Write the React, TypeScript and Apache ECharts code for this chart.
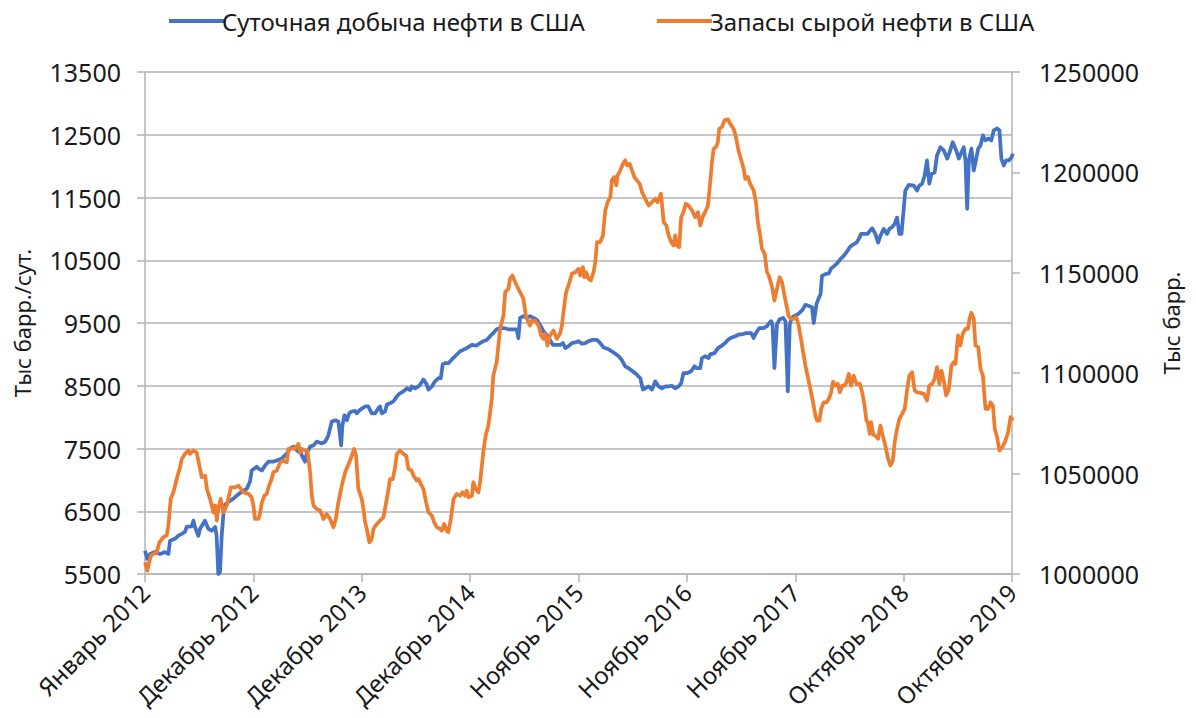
import React, { useEffect, useRef } from "react";
import * as echarts from "echarts";

// X axis: weeks since the start of January 2012; one labelled tick every 51 weeks
const xTickLabels = [
  "Январь 2012",
  "Декабрь 2012",
  "Декабрь 2013",
  "Декабрь 2014",
  "Ноябрь 2015",
  "Ноябрь 2016",
  "Ноябрь 2017",
  "Октябрь 2018",
  "Октябрь 2019",
];
const weeksPerTick = 51;

const productionName = "Суточная добыча нефти в США";
const stocksName = "Запасы сырой нефти в США";
const leftAxisName = "Тыс барр./сут.";
const rightAxisName = "Тыс барр.";

// [week, thousand barrels per day]
const production: [number, number][] = [
  [0, 5870], [1.1, 5740], [2.4, 5820], [4.7, 5850], [7.1, 5820], [9.4, 5850], [11, 5820], [11.8, 6030],
  [14.1, 6060], [15.7, 6110], [17.3, 6140], [18.8, 6170], [19.6, 6250], [22, 6260], [22.8, 6350], [23.5, 6250],
  [25.1, 6110], [25.9, 6220], [28.2, 6350], [29.8, 6220], [31.4, 6190], [33, 6250], [33.7, 6110], [34.5, 5500],
  [35.3, 5530], [36.1, 6110], [37.2, 6590], [39.2, 6650], [41.6, 6700], [43.2, 6750], [45.5, 6810], [47.9, 6860],
  [49.4, 6970], [50.2, 7150], [52.6, 7210], [53.4, 7180], [55, 7150], [56.5, 7230], [58.1, 7290], [60.4, 7290],
  [62, 7310], [64.4, 7340], [66.7, 7420], [68.3, 7500], [69.8, 7530], [70.6, 7500], [72.2, 7450], [73, 7470],
  [73.8, 7390], [75.3, 7290], [76.1, 7420], [77.7, 7530], [79.3, 7550], [80.8, 7610], [83.2, 7580], [84.8, 7610],
  [86.3, 7710], [87.9, 7930], [89.5, 7950], [91, 7930], [92.3, 7550], [92.9, 7870], [93.9, 8030], [95, 7950],
  [96.1, 8060], [97.3, 8090], [98.9, 8100], [99.6, 8060], [101.2, 8115], [103.6, 8170], [105.1, 8170], [106.7, 8060],
  [108.3, 8060], [109.8, 8140], [110.6, 8170], [111.4, 8060], [113, 8090], [113.8, 8200], [115.3, 8220], [116.9, 8250],
  [118.5, 8330], [120, 8380], [121.6, 8410], [123.2, 8460], [124.8, 8430], [125.5, 8490], [127.1, 8460], [128.7, 8490],
  [129.5, 8520], [131, 8600], [132.3, 8540], [133.4, 8440], [135, 8490], [136.5, 8570], [138.1, 8620], [139.2, 8620],
  [140.1, 8840], [141.2, 8860], [142.8, 8860], [144.4, 8920], [145.9, 8970], [148.3, 9050], [151.4, 9100], [153.8, 9150],
  [156.1, 9140], [157.7, 9180], [159.2, 9210], [160.8, 9230], [162.4, 9290], [163.9, 9340], [165.5, 9400], [167.1, 9420],
  [168.7, 9420], [171, 9400], [173.4, 9400], [174.9, 9400], [175.7, 9260], [176.5, 9580], [178.1, 9610], [179.7, 9580],
  [181.2, 9610], [182.8, 9580], [184.4, 9550], [185.9, 9470], [187.5, 9370], [189.1, 9310], [190.6, 9230], [191.9, 9150],
  [193.8, 9150], [195.4, 9150], [196.7, 9180], [197.8, 9100], [199.3, 9130], [200.9, 9180], [202.5, 9190], [204, 9210],
  [205.6, 9170], [207.2, 9180], [208.7, 9210], [210.3, 9230], [212.7, 9230], [214.2, 9180], [215.8, 9110], [218.2, 9080],
  [220.5, 9030], [222.9, 8970], [224.4, 8910], [226, 8810], [228.4, 8760], [230.7, 8700], [233.1, 8620], [234.3, 8440],
  [235.4, 8460], [237, 8490], [238.6, 8440], [240.1, 8570], [241.7, 8490], [243.3, 8460], [244.9, 8490], [246.4, 8490],
  [247.9, 8500], [249.5, 8460], [251.1, 8490], [252.3, 8540], [253.4, 8700], [255, 8700], [257, 8730], [258.6, 8810],
  [259.7, 8780], [261.3, 8780], [262.1, 8940], [263.6, 8970], [265.2, 8940], [266, 9000], [268, 9020], [269.6, 9100],
  [271.5, 9140], [273, 9180], [274.6, 9240], [276.2, 9270], [277.8, 9290], [279.7, 9320], [281.2, 9320], [282.8, 9340],
  [284, 9340], [285.3, 9340], [286.4, 9260], [287.5, 9340], [289.1, 9420], [291.1, 9420], [292.7, 9450], [293.8, 9500],
  [294.6, 9530], [295.3, 9480], [296.2, 8780], [297.4, 9480], [298.7, 9560], [300.3, 9580], [301.4, 9530], [302.5, 8410],
  [303.4, 9480], [304.5, 9590], [306.1, 9620], [307.6, 9650], [309.2, 9700], [310.8, 9790], [312.4, 9770], [313.9, 9750],
  [314.7, 9500], [316, 9800], [317.1, 9900], [317.9, 9960], [318.6, 10250], [320.2, 10280], [321.8, 10290], [322.9, 10370],
  [324.4, 10410], [325.7, 10450], [327.3, 10520], [328.8, 10570], [330.4, 10640], [331.7, 10710], [333.2, 10750], [334.8, 10780],
  [335.9, 10840], [337, 10920], [338.6, 10920], [340.1, 10920], [341.1, 10970], [342.2, 11010], [343.7, 10920], [345, 10780],
  [346.1, 10890], [347.6, 11000], [349.2, 10920], [350.3, 11000], [351.6, 11030], [352.8, 11080], [353.9, 11180], [355, 10920],
  [356, 10920], [357.1, 11340], [357.8, 11610], [359.4, 11700], [361.8, 11690], [363.3, 11610], [364.4, 11690], [365.7, 11720],
  [366.9, 11850], [368, 12090], [369.1, 11720], [370.1, 11880], [371.6, 11900], [372.7, 12170], [374.3, 12300], [375.9, 12250],
  [377.5, 12120], [378.6, 12220], [380.1, 12380], [381.7, 12250], [383, 12120], [384.2, 12220], [385.3, 12300], [386.1, 12090],
  [386.9, 11320], [387.7, 12090], [388.9, 12280], [390, 11930], [390.8, 12060], [392.1, 12280], [393.2, 12330], [394.3, 12490],
  [395.5, 12410], [397.1, 12440], [398.3, 12410], [399.4, 12570], [401, 12600], [402.1, 12570], [403, 12120], [404.1, 12010],
  [405.2, 12090], [406.5, 12090], [407.8, 12140], [408.4, 12200],
];

// [week, thousand barrels]
const stocks: [number, number][] = [
  [0, 1005800], [1.1, 1001700], [2.4, 1007500], [3.1, 1009500], [5.5, 1010800], [6.8, 1015800], [8.6, 1018300], [10.2, 1019100],
  [11, 1024100], [12.1, 1037400], [13.4, 1040700], [14.9, 1047300], [16.5, 1053200], [17.3, 1057300], [18.8, 1059800], [20.4, 1061500],
  [21.2, 1059800], [22.8, 1061500], [24.3, 1060600], [25.6, 1054000], [26.7, 1048200], [28.3, 1049000], [29.1, 1042400], [30.6, 1037400],
  [32.2, 1030700], [33, 1034100], [33.8, 1026600], [34.5, 1032400], [35.6, 1037400], [36.9, 1030700], [38.5, 1034100], [40.4, 1043200],
  [42.4, 1043200], [44, 1044000], [46.3, 1040700], [48.7, 1039900], [50.2, 1038200], [51, 1034100], [51.8, 1027400], [53.4, 1027400],
  [54.1, 1029900], [55, 1035700], [56.2, 1039000], [57.3, 1039900], [58.1, 1043200], [59.6, 1047300], [60.4, 1050700], [62, 1051500],
  [63.6, 1055600], [65.1, 1056500], [66.7, 1055600], [67.5, 1062300], [69.1, 1062600], [70.6, 1062300], [72.2, 1064800], [73, 1060600],
  [73.8, 1062300], [75.3, 1061500], [76.4, 1061500], [77.7, 1050700], [78.5, 1039000], [79.3, 1034100], [80.8, 1032400], [82.4, 1031600],
  [84, 1027400], [85.5, 1029900], [87.1, 1027400], [88.7, 1023300], [89.8, 1027400], [91, 1035700], [92.6, 1044000], [94.2, 1050700],
  [96.5, 1056500], [98.4, 1062300], [99.3, 1059000], [100.4, 1042400], [102, 1037400], [102.8, 1032400], [103.6, 1025700], [104.4, 1022400],
  [105.6, 1015800], [106.7, 1017400], [107.5, 1022400], [109.1, 1024900], [110.6, 1026600], [112.2, 1028200], [113.5, 1035700], [114.6, 1042400],
  [115.3, 1047300], [116.6, 1047300], [117.7, 1053200], [118.5, 1059800], [120, 1061500], [121.6, 1059800], [122.9, 1059000], [124, 1052300],
  [125.5, 1051500], [126.3, 1049000], [127.9, 1046500], [128.7, 1047300], [129.8, 1044800], [131, 1042400], [132.3, 1035700], [133.4, 1030700],
  [135, 1029100], [136.1, 1025700], [137.3, 1023300], [138.9, 1022400], [139.7, 1021600], [140.8, 1024900], [142, 1021600], [142.8, 1020800],
  [143.9, 1027400], [145.2, 1037400], [146.7, 1039900], [148.3, 1039000], [149.4, 1040700], [150.6, 1039000], [151.4, 1041500], [152.2, 1038200],
  [153.8, 1039000], [154.5, 1045700], [155.6, 1042400], [156.9, 1040700], [157.7, 1045700], [159.2, 1060600], [160.3, 1068900], [161.6, 1073900],
  [163.2, 1087200], [163.9, 1098800], [165.5, 1105500], [167.1, 1122100], [168.7, 1128700], [169.5, 1140400], [171, 1142000], [171.8, 1147000],
  [172.9, 1148700], [174.2, 1145300], [175.7, 1142000], [177.3, 1138700], [178.1, 1137000], [179.2, 1128700], [180.4, 1125400], [181.2, 1123700],
  [182, 1126200], [183.6, 1126200], [185.2, 1123700], [186.4, 1118800], [187.5, 1117100], [188.3, 1119600], [189.4, 1113800], [190.6, 1118800],
  [192.2, 1121300], [193.8, 1117100], [195.4, 1120000], [196.2, 1123700], [197.3, 1133700], [198.2, 1140400], [199.3, 1143700], [200.9, 1149500],
  [202.5, 1150300], [204, 1152000], [204.8, 1148700], [206.1, 1152800], [206.7, 1147800], [207.6, 1150300], [208.7, 1147000], [209.8, 1146200],
  [211.1, 1150300], [211.9, 1155300], [212.7, 1165300], [214.2, 1165300], [215.5, 1168600], [216.6, 1181000], [217.7, 1185200], [219, 1187700],
  [219.7, 1196000], [220.8, 1197700], [221.8, 1193500], [222.4, 1198500], [223.7, 1201000], [224.9, 1204300], [226, 1206000], [226.8, 1203500],
  [228.1, 1204300], [229.2, 1201000], [230.3, 1197700], [231.5, 1196000], [232.8, 1194300], [233.9, 1190200], [235.4, 1186900], [237, 1183500],
  [238.6, 1185200], [240.1, 1186900], [241.2, 1185200], [242.8, 1189400], [244.1, 1175200], [245.3, 1173600], [246.4, 1168600], [247.6, 1165300],
  [248.7, 1163600], [249.5, 1168600], [250.3, 1163600], [251.4, 1162800], [252.3, 1177700], [253.4, 1180200], [254.5, 1184400], [255.8, 1183500],
  [257.4, 1181000], [258.9, 1177700], [260.2, 1180200], [261.3, 1173600], [262.4, 1177700], [263.6, 1180200], [264.9, 1183500], [266, 1195200],
  [266.8, 1205100], [267.6, 1211800], [268.7, 1212600], [269.6, 1215100], [270.2, 1221700], [271.5, 1222600], [272.7, 1225900], [274.3, 1226400],
  [275.4, 1224200], [277, 1221700], [278.1, 1217600], [279.3, 1210900], [280.6, 1206000], [281.7, 1201800], [282.5, 1196800], [283.7, 1197700],
  [284.8, 1194300], [286.4, 1191000], [287.5, 1185200], [288.4, 1175200], [289.5, 1168600], [290.3, 1162000], [291.6, 1159500], [292.7, 1150300],
  [293.5, 1148700], [294.7, 1144500], [295.4, 1141200], [296.2, 1136200], [297.4, 1142000], [298.7, 1147800], [299.8, 1145300], [300.9, 1138700],
  [302.2, 1132000], [302.9, 1128400], [304, 1127100], [305.3, 1127100], [306.5, 1127900], [307.6, 1123700], [308.7, 1117100], [309.7, 1110500],
  [310.8, 1103800], [311.9, 1098000], [313.1, 1092200], [314.4, 1085500], [315.5, 1078900], [316.3, 1076400], [317.4, 1076400], [318.2, 1082200],
  [319.4, 1085500], [320.7, 1085500], [321.8, 1087200], [322.9, 1090500], [323.8, 1095800], [324.9, 1093800], [326, 1094700], [327, 1090500],
  [328.1, 1093800], [329.2, 1093800], [330.1, 1095500], [331.2, 1099700], [332.3, 1093800], [333.5, 1098800], [334.8, 1094700], [336.4, 1094700],
  [337.5, 1090500], [338.6, 1083900], [339.5, 1076400], [340.1, 1075600], [341.1, 1069800], [341.7, 1075600], [342.7, 1069300], [343.7, 1068900],
  [345, 1067300], [346.1, 1073900], [347.2, 1068900], [348.4, 1063900], [349.7, 1057300], [350.8, 1054000], [351.9, 1056500], [352.8, 1065600],
  [353.9, 1072300], [355, 1077200], [356.3, 1079700], [357.5, 1082200], [358.6, 1091400], [359.7, 1098800], [361, 1100500], [362.2, 1091400],
  [363.3, 1090500], [364.9, 1090200], [366.5, 1089700], [368, 1086400], [369.1, 1093800], [370.4, 1094700], [371.6, 1097200], [372.7, 1103000],
  [373.8, 1094700], [374.8, 1101300], [375.9, 1096300], [377, 1088900], [378.2, 1091400], [379.5, 1103800], [380.6, 1105500], [381.4, 1104600],
  [382.6, 1118800], [383.7, 1113800], [384.8, 1119600], [386.1, 1122100], [387.3, 1122100], [388, 1127100], [388.9, 1130100], [390, 1127100],
  [390.8, 1113800], [392.1, 1112900], [393.2, 1102200], [394.3, 1098800], [395.5, 1082200], [396.8, 1082200], [397.9, 1085500], [399, 1083900],
  [399.9, 1072300], [401, 1068100], [402.1, 1061500], [403.4, 1063100], [404.6, 1065600], [406.2, 1070600], [407.3, 1078100], [408.4, 1076400],
];

const leftTicks = { min: 5500, max: 13500, interval: 1000 };
const rightTicks = { min: 1000000, max: 1250000, interval: 50000 };

const FONT = "'Noto Sans', 'Open Sans', sans-serif";
const TEXT = "#1a1a1a";
const GRID = "#b3b3b3";

export default function App() {
  const ref = useRef<HTMLDivElement>(null);

  useEffect(() => {
    document.body.style.margin = "0";
    if (!ref.current) return;
    const chart = echarts.init(ref.current, undefined, { renderer: "svg" });
    const xMax = weeksPerTick * (xTickLabels.length - 1);
    const plain = (v: number) => String(v);
    chart.setOption({
      animation: false,
      backgroundColor: "#ffffff",
      textStyle: { fontFamily: FONT },
      legend: {
        top: 4,
        left: 164,
        itemGap: 72,
        itemWidth: 55,
        itemHeight: 4,
        icon: "rect",
        data: [productionName, stocksName],
        textStyle: { fontFamily: FONT, fontSize: 24, color: TEXT, padding: [0, 0, 0, -7] },
      },
      grid: { left: 145, right: 184, top: 72, bottom: 144, containLabel: false },
      xAxis: {
        type: "value",
        min: 0,
        max: xMax,
        interval: weeksPerTick,
        axisLine: { show: true, onZero: false, lineStyle: { color: GRID, width: 1.5 } },
        axisTick: { show: true, length: 8, lineStyle: { color: GRID, width: 1.5 } },
        splitLine: { show: false },
        axisLabel: {
          rotate: 45,
          margin: 14,
          fontFamily: FONT,
          fontSize: 24,
          color: TEXT,
          showMinLabel: true,
          showMaxLabel: true,
          formatter: (v: number) => xTickLabels[Math.round(v / weeksPerTick)] ?? "",
        },
      },
      yAxis: [
        {
          type: "value",
          position: "left",
          min: leftTicks.min,
          max: leftTicks.max,
          interval: leftTicks.interval,
          name: leftAxisName,
          nameLocation: "middle",
          nameRotate: 90,
          nameGap: 112,
          nameTextStyle: { fontFamily: FONT, fontSize: 22, color: TEXT },
          axisLine: { show: true, lineStyle: { color: GRID, width: 1.5 } },
          axisTick: { show: true, length: 8, lineStyle: { color: GRID, width: 1.5 } },
          splitLine: { show: true, lineStyle: { color: GRID, width: 1.5 } },
          axisLabel: { margin: 24, fontFamily: FONT, fontSize: 25, color: TEXT, formatter: plain },
        },
        {
          type: "value",
          position: "right",
          min: rightTicks.min,
          max: rightTicks.max,
          interval: rightTicks.interval,
          name: rightAxisName,
          nameLocation: "middle",
          nameRotate: 90,
          nameGap: 148,
          nameTextStyle: { fontFamily: FONT, fontSize: 22, color: TEXT },
          axisLine: { show: true, lineStyle: { color: GRID, width: 1.5 } },
          axisTick: { show: true, length: 8, lineStyle: { color: GRID, width: 1.5 } },
          splitLine: { show: false },
          axisLabel: { margin: 27, fontFamily: FONT, fontSize: 25, color: TEXT, formatter: plain },
        },
      ],
      series: [
        {
          name: productionName,
          type: "line",
          yAxisIndex: 0,
          data: production,
          showSymbol: false,
          symbol: "none",
          lineStyle: { color: "#4472C4", width: 3.75, join: "round" },
          itemStyle: { color: "#4472C4" },
        },
        {
          name: stocksName,
          type: "line",
          yAxisIndex: 1,
          data: stocks,
          showSymbol: false,
          symbol: "none",
          lineStyle: { color: "#ED7D31", width: 3.75, join: "round" },
          itemStyle: { color: "#ED7D31" },
        },
      ],
    });
    return () => chart.dispose();
  }, []);

  return <div ref={ref} style={{ width: 1196, height: 718 }} />;
}
